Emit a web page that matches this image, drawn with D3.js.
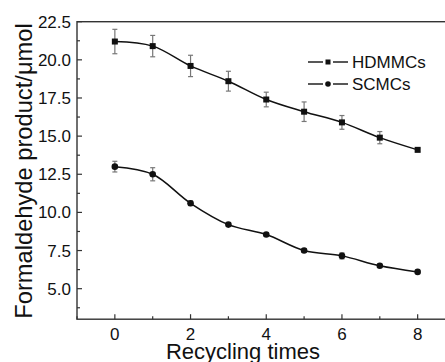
<!DOCTYPE html>
<html>
<head>
<meta charset="utf-8">
<script src="https://cdn.jsdelivr.net/npm/d3@7"></script>
<style>
  body { margin: 0; background: #fff; }
  svg { display: block; font-family: "Liberation Sans", Arial, sans-serif; }
</style>
</head>
<body>
<div id="chart"></div>
<script>
// data
var cycles = [0, 1, 2, 3, 4, 5, 6, 7, 8];
var hdmmcs = [21.2, 20.9, 19.6, 18.6, 17.4, 16.6, 15.9, 14.9, 14.1];
var hdmmcsErr = [0.8, 0.7, 0.7, 0.65, 0.48, 0.64, 0.45, 0.4, 0.1];
var scmcs = [13.0, 12.5, 10.6, 9.2, 8.55, 7.5, 7.15, 6.5, 6.1];
var scmcsErr = [0.35, 0.43, 0.15, 0.1, 0.08, 0.12, 0.2, 0.1, 0.05];
var yTicks = [5, 7.5, 10, 12.5, 15, 17.5, 20, 22.5];
var xTicks = [0, 2, 4, 6, 8];

var W = 445, H = 362;
var margin = {top: 21.7, right: 0, bottom: 0, left: 77};
var dims = {width: 378.5, height: 297.5};

var svg = d3.select("#chart").append("svg")
    .attr("width", W).attr("height", H);
var g = svg.append("g")
    .attr("transform", "translate(" + margin.left + "," + margin.top + ")");

var x = d3.scaleLinear().domain([-1, 9]).range([0, dims.width]);
var y = d3.scaleLinear().domain([3, 22.5]).range([dims.height, 0]);

// frame
g.append("rect")
  .attr("x", 0).attr("y", 0)
  .attr("width", dims.width).attr("height", dims.height)
  .attr("fill", "none").attr("stroke", "#333").attr("stroke-width", 1.4);

// y axis ticks (inward), minor every 1.25
var yMinor = d3.range(3.75, 22.5, 2.5);
g.selectAll(".ymaj").data(yTicks).enter().append("line")
  .attr("x1", 0).attr("x2", 5)
  .attr("y1", d => y(d)).attr("y2", d => y(d))
  .attr("stroke", "#333").attr("stroke-width", 1.2);
g.selectAll(".ymin").data(yMinor).enter().append("line")
  .attr("x1", 0).attr("x2", 3)
  .attr("y1", d => y(d)).attr("y2", d => y(d))
  .attr("stroke", "#333").attr("stroke-width", 1.2);
g.selectAll(".ylab").data(yTicks).enter().append("text")
  .attr("x", -6).attr("y", d => y(d) + 6)
  .attr("text-anchor", "end")
  .attr("font-size", 17).attr("fill", "#111")
  .text(d => d.toFixed(1));

// x axis ticks (inward), minor at odd values
var xMinor = [-1, 1, 3, 5, 7];
g.selectAll(".xmaj").data(xTicks).enter().append("line")
  .attr("x1", d => x(d)).attr("x2", d => x(d))
  .attr("y1", dims.height).attr("y2", dims.height - 5)
  .attr("stroke", "#333").attr("stroke-width", 1.2);
g.selectAll(".xmin").data(xMinor).enter().append("line")
  .attr("x1", d => x(d)).attr("x2", d => x(d))
  .attr("y1", dims.height).attr("y2", dims.height - 3)
  .attr("stroke", "#333").attr("stroke-width", 1.2);
g.selectAll(".xlab").data(xTicks).enter().append("text")
  .attr("x", d => x(d)).attr("y", dims.height + 21)
  .attr("text-anchor", "middle")
  .attr("font-size", 17).attr("fill", "#111")
  .text(d => d);

// axis titles
svg.append("text")
  .attr("x", 243).attr("y", 359)
  .attr("text-anchor", "middle")
  .attr("font-size", 22).attr("fill", "#111")
  .text("Recycling times");
svg.append("text")
  .attr("transform", "translate(32,171) rotate(-90)")
  .attr("text-anchor", "middle")
  .attr("font-size", 23.7).attr("fill", "#111")
  .text("Formaldehyde product/\u03bcmol");

var series = [
  {id: "HDMMCs", values: hdmmcs, err: hdmmcsErr, shape: "square"},
  {id: "SCMCs", values: scmcs, err: scmcsErr, shape: "circle"}
];

var line = d3.line()
  .x((d, i) => x(cycles[i]))
  .y(d => y(d))
  .curve(d3.curveCatmullRom.alpha(0.5));

series.forEach(function(s) {
  // error bars
  var eb = g.append("g").attr("stroke", "#777").attr("stroke-width", 1.2);
  s.values.forEach(function(v, i) {
    var cx = x(cycles[i]), top = y(v + s.err[i]), bot = y(v - s.err[i]);
    eb.append("line").attr("x1", cx).attr("x2", cx).attr("y1", top).attr("y2", bot);
    eb.append("line").attr("x1", cx - 2.5).attr("x2", cx + 2.5).attr("y1", top).attr("y2", top);
    eb.append("line").attr("x1", cx - 2.5).attr("x2", cx + 2.5).attr("y1", bot).attr("y2", bot);
  });
  // smooth line
  g.append("path")
    .attr("d", line(s.values))
    .attr("fill", "none").attr("stroke", "#111").attr("stroke-width", 1.5);
  // markers
  if (s.shape == "square") {
    g.selectAll(".sq").data(s.values).enter().append("rect")
      .attr("x", (d, i) => x(cycles[i]) - 3).attr("y", d => y(d) - 3)
      .attr("width", 6).attr("height", 6).attr("fill", "#111");
  } else {
    g.selectAll(".ci").data(s.values).enter().append("circle")
      .attr("cx", (d, i) => x(cycles[i])).attr("cy", d => y(d))
      .attr("r", 3.3).attr("fill", "#111");
  }
});

// legend
var leg = svg.append("g");
series.forEach(function(s, k) {
  var ly = 62 + k * 22;
  leg.append("line").attr("x1", 308).attr("x2", 323).attr("y1", ly).attr("y2", ly)
    .attr("stroke", "#111").attr("stroke-width", 1.4);
  leg.append("line").attr("x1", 333).attr("x2", 348).attr("y1", ly).attr("y2", ly)
    .attr("stroke", "#111").attr("stroke-width", 1.4);
  if (s.shape == "square") {
    leg.append("rect").attr("x", 325.5).attr("y", ly - 2.5).attr("width", 5).attr("height", 5).attr("fill", "#111");
  } else {
    leg.append("circle").attr("cx", 328).attr("cy", ly).attr("r", 2.8).attr("fill", "#111");
  }
  leg.append("text").attr("x", 352).attr("y", ly + 6)
    .attr("font-size", 17).attr("fill", "#111").text(s.id);
});
</script>
</body>
</html>
